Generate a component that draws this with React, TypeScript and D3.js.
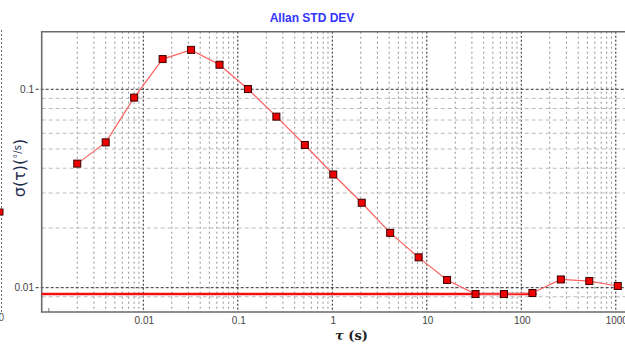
import React, { useRef, useEffect } from 'react';
import * as d3 from 'd3';

// averaging times (s) and Allan deviation values
const tauValues = [0.002, 0.004, 0.008, 0.016, 0.032, 0.064, 0.128, 0.256, 0.512, 1.024, 2.048, 4.096, 8.192, 16.384, 32.768, 65.536, 131.07, 262.14, 524.29, 1048.6];
const sigmaValues = [0.0422, 0.054, 0.0908, 0.142, 0.158, 0.133, 0.1003, 0.0728, 0.0524, 0.0372, 0.0268, 0.0189, 0.01422, 0.01094, 0.00929, 0.00929, 0.0094, 0.011, 0.0108, 0.0102];

// bias instability level line
const biasLevel = [0.00929];
const biasEnd = [145];

const xTickValues = [0.01, 0.1, 1, 10, 100, 1000];
const xTickLabels = ['0.01', '0.1', '1', '10', '100', '1000'];
const yTickValues = [0.01, 0.1];
const yTickLabels = ['0.01', '0.1'];

const W = 625;
const H = 345;

const AllanChart: React.FC = () => {
  const svgRef = useRef<SVGSVGElement | null>(null);

  useEffect(() => {
    if (!svgRef.current) return;
    const svg = d3.select(svgRef.current);
    svg.selectAll('*').remove();

    const left = 41.7;
    const top = 31.7;
    const bottom = 312;

    const x = d3.scaleLog().domain([0.000841, 1803]).range([left, 640]);
    const y = d3.scaleLog().domain([0.007541, 0.1951]).range([bottom, top]);

    const font = 'Liberation Sans, Arial, sans-serif';

    // neighbouring panel edge (cut off on the left)
    svg.append('line')
      .attr('x1', 1.5).attr('x2', 1.5).attr('y1', 30).attr('y2', 312)
      .attr('stroke', '#666').attr('stroke-dasharray', '2,2');
    svg.append('rect')
      .attr('x', -3).attr('y', 209).attr('width', 6).attr('height', 6)
      .attr('fill', '#e00').attr('stroke', '#400');
    svg.append('text')
      .attr('x', 4).attr('y', 321).attr('text-anchor', 'end')
      .attr('font-family', font).attr('font-size', 10).attr('fill', '#555')
      .text('100');

    // title
    svg.append('text')
      .attr('x', 312).attr('y', 21.5).attr('text-anchor', 'middle')
      .attr('font-family', font).attr('font-size', 12).attr('font-weight', 'bold')
      .attr('fill', '#3333ff')
      .text('Allan STD DEV');

    const grid = svg.append('g');

    // vertical grid
    const xMinor: number[] = [];
    const xMajor: number[] = [];
    for (let e = -3; e <= 3; e++) {
      const base = Math.pow(10, e);
      if (e > -3) xMajor.push(base);
      for (let m = 2; m <= 9; m++) {
        const v = m * base;
        if (x(v) < W + 20) xMinor.push(v);
      }
    }
    grid.selectAll('.vminor').data(xMinor).enter().append('line')
      .attr('x1', d => x(d)).attr('x2', d => x(d))
      .attr('y1', top).attr('y2', bottom)
      .attr('stroke', '#909090').attr('stroke-width', 1).attr('stroke-dasharray', '2,3');
    grid.selectAll('.vmajor').data(xMajor).enter().append('line')
      .attr('x1', d => x(d)).attr('x2', d => x(d))
      .attr('y1', top).attr('y2', bottom)
      .attr('stroke', '#222').attr('stroke-width', 1).attr('stroke-dasharray', '2,2');

    // horizontal grid
    const yMinor = [0.009, 0.02, 0.03, 0.04, 0.05, 0.06, 0.07, 0.08, 0.09];
    grid.selectAll('.hminor').data(yMinor).enter().append('line')
      .attr('x1', left).attr('x2', W)
      .attr('y1', d => y(d)).attr('y2', d => y(d))
      .attr('stroke', '#bbbbbb').attr('stroke-width', 1).attr('stroke-dasharray', '4,3');
    grid.selectAll('.hmajor').data(yTickValues).enter().append('line')
      .attr('x1', left - 6).attr('x2', W)
      .attr('y1', d => y(d)).attr('y2', d => y(d))
      .attr('stroke', '#333').attr('stroke-width', 1).attr('stroke-dasharray', '3,2');

    // small tick at 0.001
    svg.append('line')
      .attr('x1', x(0.001)).attr('x2', x(0.001))
      .attr('y1', bottom - 4).attr('y2', bottom)
      .attr('stroke', '#777');

    // frame
    svg.append('path')
      .attr('d', `M${W + 5},${top} L${left},${top} L${left},${bottom} L${W + 5},${bottom}`)
      .attr('fill', 'none').attr('stroke', '#6a6a6a').attr('stroke-width', 1.6);

    // tick labels
    svg.selectAll('.xlab').data(xTickValues).enter().append('text')
      .attr('x', d => x(d) + 1).attr('y', 324)
      .attr('text-anchor', 'middle')
      .attr('font-family', font).attr('font-size', 10).attr('fill', '#444')
      .text((d, i) => xTickLabels[i]);
    svg.selectAll('.ylab').data(yTickValues).enter().append('text')
      .attr('x', 34).attr('y', d => y(d) + 3.5)
      .attr('text-anchor', 'end')
      .attr('font-family', font).attr('font-size', 10).attr('fill', '#444')
      .text((d, i) => yTickLabels[i]);

    // bias instability line
    svg.append('line')
      .attr('x1', left).attr('x2', x(biasEnd[0]))
      .attr('y1', y(biasLevel[0])).attr('y2', y(biasLevel[0]))
      .attr('stroke', '#ee1111').attr('stroke-width', 2.6);

    // series
    const pts = tauValues.map((t, i) => [t, sigmaValues[i]] as [number, number]);
    const line = d3.line<[number, number]>().x(d => x(d[0])).y(d => y(d[1]));
    svg.append('path')
      .attr('d', line(pts) ?? '')
      .attr('fill', 'none').attr('stroke', '#ff6060').attr('stroke-width', 1.2);
    svg.selectAll('.pt').data(pts).enter().append('rect')
      .attr('x', d => x(d[0]) - 3.5).attr('y', d => y(d[1]) - 3.5)
      .attr('width', 7).attr('height', 7)
      .attr('fill', '#ee0000').attr('stroke', '#3a0000').attr('stroke-width', 1);

    // axis titles
    svg.append('text')
      .attr('x', 335).attr('y', 340)
      .attr('font-family', 'DejaVu Serif, serif').attr('font-size', 13).attr('font-weight', 'bold')
      .attr('fill', '#222')
      .html('<tspan font-style="italic">τ</tspan> (s)');

    const yl = svg.append('text')
      .attr('transform', 'translate(25,168) rotate(-90)')
      .attr('text-anchor', 'middle')
      .attr('font-family', 'DejaVu Sans, sans-serif').attr('font-size', 16)
      .attr('fill', '#1f2d4d');
    yl.append('tspan').text('σ(τ)(');
    yl.append('tspan').attr('font-size', 10).attr('dy', -4).text('°/s');
    yl.append('tspan').attr('dy', 4).text(')');
  }, []);

  return (
    <svg ref={svgRef} width={W} height={H}
      style={{ position: 'absolute', left: 0, top: 0, background: '#fff' }} />
  );
};

export default function App() {
  return <AllanChart />;
}
